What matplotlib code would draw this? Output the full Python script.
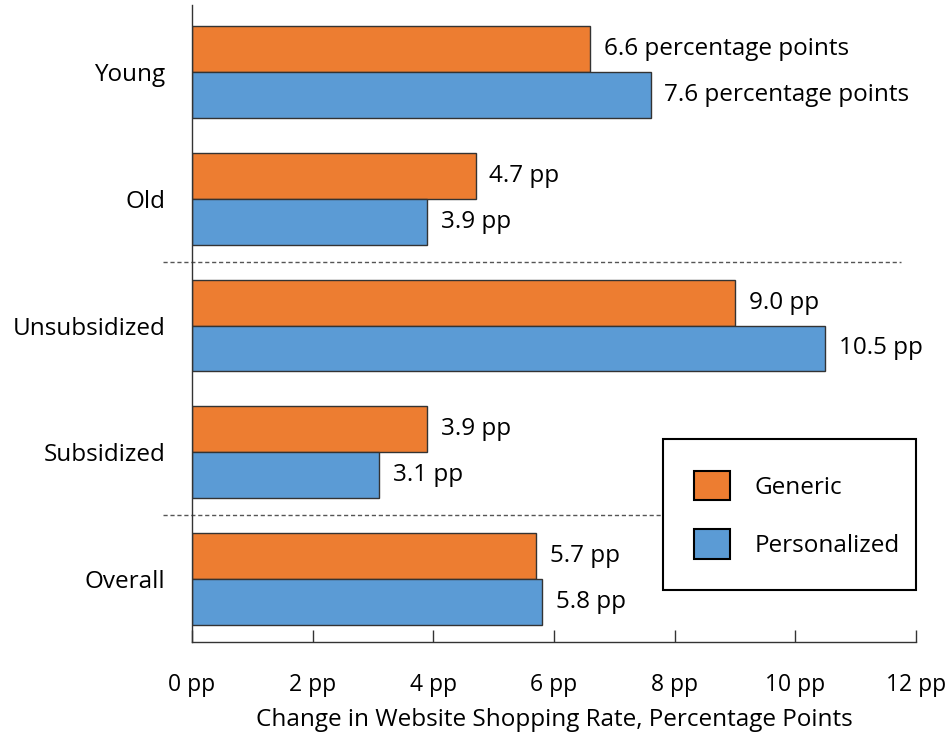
import matplotlib
matplotlib.use("Agg")
from matplotlib import pyplot as plt
import numpy as np

plt.rcParams['font.family'] = ['Open Sans', 'DejaVu Sans']

# data
groups = ["Young", "Old", "Unsubsidized", "Subsidized", "Overall"]
generic = [6.6, 4.7, 9.0, 3.9, 5.7]
personalized = [7.6, 3.9, 10.5, 3.1, 5.8]
generic_labels = ["6.6 percentage points", "4.7 pp", "9.0 pp", "3.9 pp", "5.7 pp"]
personal_labels = ["7.6 percentage points", "3.9 pp", "10.5 pp", "3.1 pp", "5.8 pp"]
xticks = [0, 2, 4, 6, 8, 10, 12]
xtick_labels = ["0 pp", "2 pp", "4 pp", "6 pp", "8 pp", "10 pp", "12 pp"]

ORANGE = "#ED7D31"
BLUE = "#5B9BD5"
FS = 17.5

fig = plt.figure(figsize=(9.5, 7.44), dpi=100)
ax = fig.add_axes([0.2021, 0.1371, 0.7621, 0.8559])

y = np.arange(len(groups))
h = 0.362
ax.barh(y - h / 2, generic, height=h, color=ORANGE, edgecolor="#333333",
        linewidth=1, label="Generic")
ax.barh(y + h / 2, personalized, height=h, color=BLUE, edgecolor="#333333",
        linewidth=1, label="Personalized")

# value labels next to bars
for i in range(len(groups)):
    ax.annotate(generic_labels[i], (generic[i], y[i] - h / 2), xytext=(10, 0),
                textcoords="offset points", va="center", ha="left", fontsize=FS)
    ax.annotate(personal_labels[i], (personalized[i], y[i] + h / 2), xytext=(10, 0),
                textcoords="offset points", va="center", ha="left", fontsize=FS)

# dashed separators
for sep in [1.5, 3.5]:
    ax.plot([-0.48, 11.75], [sep, sep], color="#555555", linewidth=1,
            linestyle=(0, (3, 2)), clip_on=False, zorder=1)

ax.set_xlim(0, 12)
ax.set_ylim(4.5, -0.53)
ax.set_xticks(xticks)
ax.set_xticklabels(xtick_labels, fontsize=16.5)
ax.set_yticks(y)
ax.set_yticklabels(groups, fontsize=FS)
ax.tick_params(axis="x", direction="in", length=9, width=1, pad=22, color="#333333")
ax.tick_params(axis="y", length=0, pad=19)
ax.set_xlabel("Change in Website Shopping Rate, Percentage Points", fontsize=FS, labelpad=8)

for s in ["top", "right"]:
    ax.spines[s].set_visible(False)
for s in ["left", "bottom"]:
    ax.spines[s].set_color("#333333")
    ax.spines[s].set_linewidth(1)

leg = ax.legend(loc="lower left", bbox_to_anchor=(0.65, 0.0816, 0.35, 0.235),
                mode="expand", fontsize=FS, frameon=True, fancybox=False, framealpha=1,
                handlelength=1.5, handleheight=1.5, handletextpad=1.0,
                labelspacing=1.18, borderpad=1.29, borderaxespad=0)
leg.set_zorder(5)
leg.get_frame().set_edgecolor("black")
leg.get_frame().set_linewidth(1.5)
for p in leg.get_patches():
    p.set_edgecolor("black")
    p.set_linewidth(1.5)

fig.savefig("out.png", dpi=100)
